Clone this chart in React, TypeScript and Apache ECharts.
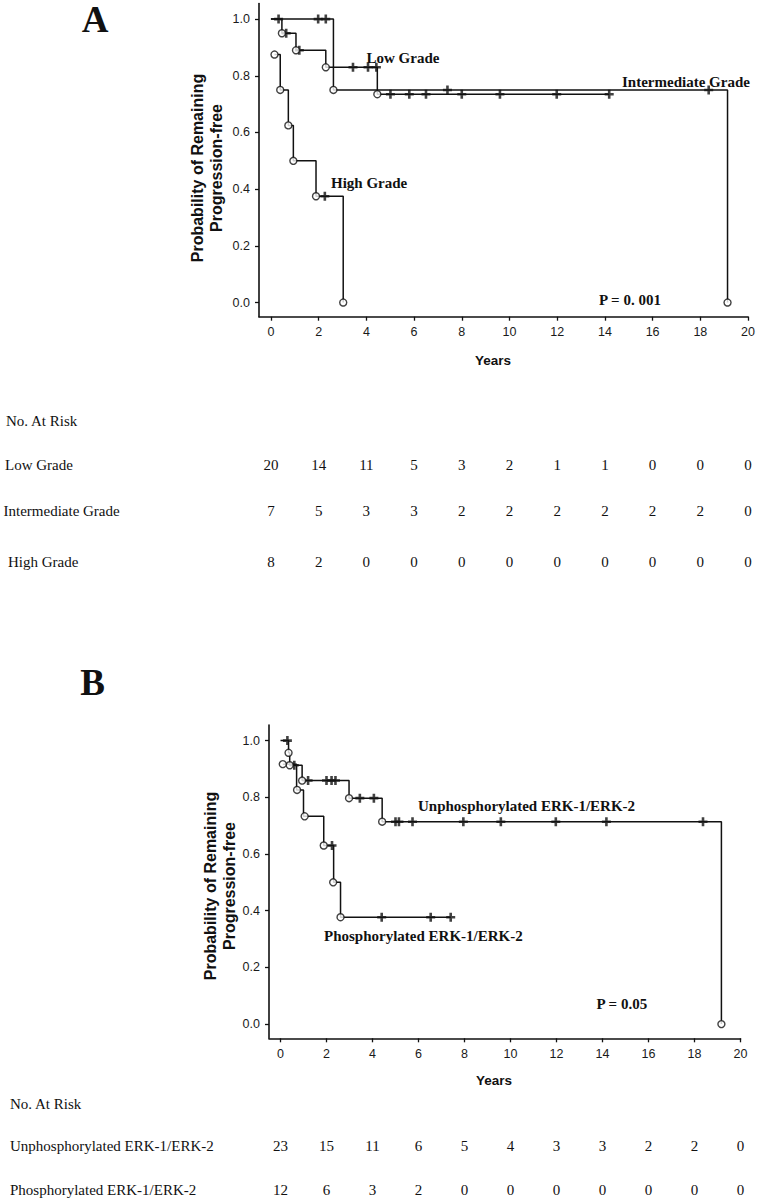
import React, { useEffect, useRef } from "react";
import * as echarts from "echarts";

// ---------- shared axis ticks ----------
const yearTicks = [0, 2, 4, 6, 8, 10, 12, 14, 16, 18, 20];
const probTicks = [0, 0.2, 0.4, 0.6, 0.8, 1.0];

// ---------- Panel A: tumour grade ----------
const lowGradeSteps = [[0, 1], [0.46, 0.95], [1.05, 0.89], [2.3, 0.83], [4.46, 0.735], [14.18, 0.735]];
const lowGradeEvents = [[0.46, 0.95], [1.05, 0.89], [2.3, 0.83], [4.46, 0.735]];
const lowGradeCensored = [[0.64, 0.95], [1.19, 0.89], [3.44, 0.83], [4.07, 0.83], [4.42, 0.83], [5.01, 0.735], [5.8, 0.735], [6.5, 0.735], [8.0, 0.735], [9.6, 0.735], [11.98, 0.735], [14.18, 0.735]];

const interGradeSteps = [[0, 1], [2.62, 0.75], [19.14, 0]];
const interGradeEvents = [[2.62, 0.75], [19.14, 0]];
const interGradeCensored = [[0.32, 1], [1.98, 1], [2.3, 1], [7.4, 0.75], [18.35, 0.75]];

const highGradeSteps = [[0.15, 0.875], [0.39, 0.75], [0.73, 0.625], [0.94, 0.5], [1.89, 0.375], [3.03, 0]];
const highGradeEvents = [[0.15, 0.875], [0.39, 0.75], [0.73, 0.625], [0.94, 0.5], [1.89, 0.375], [3.03, 0]];
const highGradeCensored = [[2.26, 0.375]];

const riskRowsA = ["Low Grade", "Intermediate Grade", "High Grade"];
const lowGradeAtRisk = [20, 14, 11, 5, 3, 2, 1, 1, 0, 0, 0];
const interGradeAtRisk = [7, 5, 3, 3, 2, 2, 2, 2, 2, 2, 0];
const highGradeAtRisk = [8, 2, 0, 0, 0, 0, 0, 0, 0, 0, 0];

// ---------- Panel B: ERK phosphorylation ----------
const unphosSteps = [[0, 1], [0.35, 0.957], [0.4, 0.913], [0.94, 0.859], [2.98, 0.797], [4.42, 0.714], [19.17, 0]];
const unphosEvents = [[0.35, 0.957], [0.4, 0.913], [0.94, 0.859], [2.98, 0.797], [4.42, 0.714], [19.17, 0]];
const unphosCensored = [[0.3, 1], [0.6, 0.913], [1.2, 0.859], [2.0, 0.859], [2.22, 0.859], [2.39, 0.859], [3.45, 0.797], [4.06, 0.797], [5.0, 0.714], [5.15, 0.714], [5.74, 0.714], [7.95, 0.714], [9.58, 0.714], [11.97, 0.714], [14.17, 0.714], [18.37, 0.714]];

const phosSteps = [[0.1, 0.917], [0.7, 0.826], [1.0, 0.733], [1.88, 0.63], [2.31, 0.5], [2.61, 0.377], [7.4, 0.377]];
const phosEvents = [[0.1, 0.917], [0.72, 0.826], [1.05, 0.733], [1.88, 0.63], [2.29, 0.5], [2.61, 0.377]];
const phosCensored = [[2.24, 0.63], [4.4, 0.377], [6.53, 0.377], [7.4, 0.377]];

const riskRowsB = ["Unphosphorylated ERK-1/ERK-2", "Phosphorylated ERK-1/ERK-2"];
const unphosAtRisk = [23, 15, 11, 6, 5, 4, 3, 3, 2, 2, 0];
const phosAtRisk = [12, 6, 3, 2, 0, 0, 0, 0, 0, 0, 0];

// ---------- styling helpers ----------
const INK = "#111";
const SANS = '"Liberation Sans", Arial, sans-serif';
const SERIF = '"Liberation Serif", "Times New Roman", serif';
const CROSS = "path://M3.2,0H5.8V3.2H9V5.8H5.8V9H3.2V5.8H0V3.2H3.2Z";

const xAxisFor = (gridIndex: number) => ({
  type: "value",
  gridIndex,
  min: -0.5,
  max: 20,
  axisLine: { show: true, onZero: false, lineStyle: { color: INK, width: 1.6 } },
  axisTick: { show: true, length: 4, customValues: yearTicks, lineStyle: { color: INK, width: 1.3 } },
  axisLabel: {
    customValues: yearTicks,
    margin: 9,
    color: "#1a1a1a",
    fontSize: 12.5,
    fontFamily: SANS,
    formatter: (v: number) => (Math.abs(v - Math.round(v / 2) * 2) < 1e-6 ? String(v) : ""),
  },
  splitLine: { show: false },
});

const yAxisFor = (gridIndex: number) => ({
  type: "value",
  gridIndex,
  min: -0.05,
  max: 1.055,
  axisLine: { show: true, onZero: false, lineStyle: { color: INK, width: 1.6 } },
  axisTick: { show: true, length: 4, customValues: probTicks, lineStyle: { color: INK, width: 1.3 } },
  axisLabel: {
    customValues: probTicks,
    margin: 9,
    color: "#1a1a1a",
    fontSize: 12.5,
    fontFamily: SANS,
    formatter: (v: number) => v.toFixed(1),
  },
  splitLine: { show: false },
});

const stepSeries = (idx: number, data: number[][]) => ({
  type: "line",
  xAxisIndex: idx,
  yAxisIndex: idx,
  data,
  step: "end",
  showSymbol: false,
  symbol: "none",
  lineStyle: { color: INK, width: 1.5 },
  z: 2,
});

const eventSeries = (idx: number, data: number[][]) => ({
  type: "scatter",
  xAxisIndex: idx,
  yAxisIndex: idx,
  data,
  symbol: "circle",
  symbolSize: 7,
  itemStyle: { color: "#fff", borderColor: INK, borderWidth: 1.4 },
  z: 4,
});

const censorSeries = (idx: number, data: number[][]) => ({
  type: "scatter",
  xAxisIndex: idx,
  yAxisIndex: idx,
  data,
  symbol: CROSS,
  symbolSize: 9,
  itemStyle: { color: INK },
  z: 3,
});

const txt = (x: number, y: number, text: string, font: string, align = "left", extra: any = {}) => ({
  type: "text",
  x,
  y,
  ...extra,
  style: {
    text,
    font,
    fill: INK,
    textAlign: align,
    textVerticalAlign: "middle",
    align,
    verticalAlign: "middle",
    ...(extra.styleExtra || {}),
  },
});

export default function App() {
  const ref = useRef<HTMLDivElement>(null);

  useEffect(() => {
    const chart = echarts.init(ref.current!, null, { renderer: "svg" });
    chart.setOption({
      animation: false,
      backgroundColor: "#fff",
      grid: [
        { left: 259, top: 3.5, width: 492, height: 313.2 },
        { left: 269, top: 725, width: 471.5, height: 313.3 },
      ],
      xAxis: [xAxisFor(0), xAxisFor(1)],
      yAxis: [yAxisFor(0), yAxisFor(1)],
      series: [
        stepSeries(0, interGradeSteps),
        stepSeries(0, lowGradeSteps),
        stepSeries(0, highGradeSteps),
        censorSeries(0, interGradeCensored),
        censorSeries(0, lowGradeCensored),
        censorSeries(0, highGradeCensored),
        eventSeries(0, interGradeEvents),
        eventSeries(0, lowGradeEvents),
        eventSeries(0, highGradeEvents),
        stepSeries(1, unphosSteps),
        stepSeries(1, phosSteps),
        censorSeries(1, unphosCensored),
        censorSeries(1, phosCensored),
        eventSeries(1, unphosEvents),
        eventSeries(1, phosEvents),
      ],
    });

    const px = (axis: number, t: number) => chart.convertToPixel({ xAxisIndex: axis }, t) as number;

    const tableFont = `15px ${SERIF}`;
    const labelFont = `bold 15px ${SERIF}`;
    const titleFont = `bold 16px ${SANS}`;
    const yearsFont = `bold 13.5px ${SANS}`;
    const panelFont = `bold 37px ${SERIF}`;

    const graphics: any[] = [];

    // Panel letters
    graphics.push(txt(95, 19, "A", panelFont, "center"));
    graphics.push(txt(92.5, 682, "B", panelFont, "center"));

    // Axis titles
    graphics.push(
      txt(207, 168, "Probability of Remaining\nProgression-free", titleFont, "center", {
        rotation: Math.PI / 2,
        styleExtra: { lineHeight: 19 },
      })
    );
    graphics.push(
      txt(220, 886, "Probability of Remaining\nProgression-free", titleFont, "center", {
        rotation: Math.PI / 2,
        styleExtra: { lineHeight: 19 },
      })
    );
    graphics.push(txt(493, 360, "Years", yearsFont, "center"));
    graphics.push(txt(494, 1080, "Years", yearsFont, "center"));

    // Curve labels
    graphics.push(txt(366.5, 57.5, "Low Grade", labelFont));
    graphics.push(txt(331, 183, "High Grade", labelFont));
    graphics.push(txt(622, 82, "Intermediate Grade", labelFont));
    graphics.push(txt(599, 300, "P = 0. 001", labelFont));
    graphics.push(txt(418, 806, "Unphosphorylated ERK-1/ERK-2", labelFont));
    graphics.push(txt(324, 936, "Phosphorylated ERK-1/ERK-2", labelFont));
    graphics.push(txt(596.5, 1003.5, "P = 0.05", labelFont));

    // At-risk table A
    graphics.push(txt(6, 421, "No. At Risk", tableFont));
    const rowYA = [465, 511, 562];
    const rowXA = [5, 3.5, 8];
    const valuesA = [lowGradeAtRisk, interGradeAtRisk, highGradeAtRisk];
    riskRowsA.forEach((name, r) => {
      graphics.push(txt(rowXA[r], rowYA[r], name, tableFont));
      valuesA[r].forEach((v, i) => graphics.push(txt(px(0, yearTicks[i]), rowYA[r], String(v), tableFont, "center")));
    });

    // At-risk table B
    graphics.push(txt(10, 1104, "No. At Risk", tableFont));
    const rowYB = [1146, 1190];
    const valuesB = [unphosAtRisk, phosAtRisk];
    riskRowsB.forEach((name, r) => {
      graphics.push(txt(10, rowYB[r], name, tableFont));
      valuesB[r].forEach((v, i) => graphics.push(txt(px(1, yearTicks[i]), rowYB[r], String(v), tableFont, "center")));
    });

    chart.setOption({ graphic: graphics });

    return () => chart.dispose();
  }, []);

  return (
    <div
      ref={ref}
      style={{ position: "absolute", left: 0, top: 0, width: 758, height: 1200, background: "#fff" }}
    />
  );
}
